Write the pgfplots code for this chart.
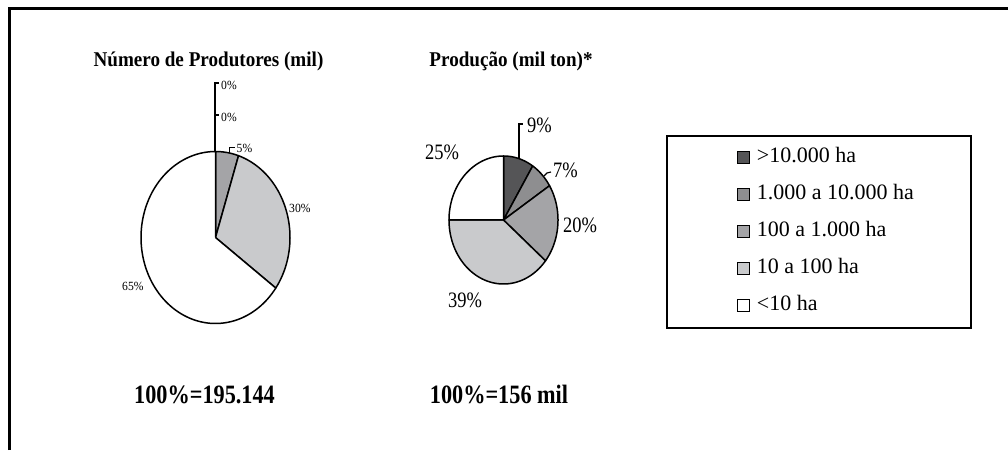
\documentclass[border=0pt]{standalone}
\usepackage{pgfplots}
\pgfplotsset{compat=1.18}
\usepackage{fontspec}
\setmainfont{Liberation Serif}
\newfontfamily\ftitle[FakeStretch=0.91]{Liberation Serif}
\newfontfamily\fbig[FakeStretch=0.84]{Liberation Serif}
\newfontfamily\fsmall[FakeStretch=0.93]{Liberation Serif}
\definecolor{c1}{RGB}{85,85,87}
\definecolor{c2}{RGB}{142,142,144}
\definecolor{c3}{RGB}{164,164,167}
\definecolor{c4}{RGB}{201,202,204}
\definecolor{c5}{RGB}{255,255,255}
% slice: cx, cy, rx, ry, start %, end %, colour
\newcommand{\slice}[7]{%
  \addplot[forget plot, fill=#7, draw=black, line width=1.5pt, line join=round,
    variable=\t, samples at={-1,0,1,...,100,101}]
  ({#1 + (\t>=0)*(\t<=100)*#3*sin(3.6*(#5+(#6-#5)*min(max(\t,0),100)/100))},
   {#2 + (\t>=0)*(\t<=100)*#4*cos(3.6*(#5+(#6-#5)*min(max(\t,0),100)/100))});
}
\begin{document}
\begin{tikzpicture}
\begin{axis}[
  width=1008pt, height=450pt, scale only axis,
  xmin=0, xmax=1008, ymin=0, ymax=450,
  hide axis, clip=false,
  legend image code/.code={%
    \path (0pt,0pt);
    \draw[#1] (20pt,-6pt) rectangle (32pt,6pt);},
  legend style={at={(0.6607,0.7)}, anchor=north west,
    draw=black, line width=1.8pt,
    minimum width=304pt, minimum height=192pt,
    font=\fontsize{22}{26}\selectfont,
    row sep=17pt,
    nodes={minimum width=0pt, minimum height=0pt, text height=15pt, text depth=5pt, inner ysep=0pt, inner xsep=7pt, line width=0.4pt}},
  legend cell align=left,
]
\path (rel axis cs:0,0) rectangle (rel axis cs:1,1);
% frame
\draw[overlay, line width=3pt] (axis cs:9,0) -- (axis cs:9,441) -- (axis cs:1008,441);

% Pie 1: Numero de Produtores: 0, 0, 5, 30, 65
\slice{215.5}{212.5}{74.5}{86}{0}{5}{c3}
\slice{215.5}{212.5}{74.5}{86}{5}{35}{c4}
\slice{215.5}{212.5}{74.5}{86}{35}{100}{c5}

% Pie 2: Producao: 9, 7, 20, 39, 25
\slice{503.5}{230}{54.5}{64}{0}{9}{c1}
\slice{503.5}{230}{54.5}{64}{9}{16}{c2}
\slice{503.5}{230}{54.5}{64}{16}{36}{c3}
\slice{503.5}{230}{54.5}{64}{36}{75}{c4}
\slice{503.5}{230}{54.5}{64}{75}{100}{c5}

\addlegendimage{fill=c1, draw=black, line width=1pt}
\addlegendentry{>10.000 ha}
\addlegendimage{fill=c2, draw=black, line width=1pt}
\addlegendentry{1.000 a 10.000 ha}
\addlegendimage{fill=c3, draw=black, line width=1pt}
\addlegendentry{100 a 1.000 ha}
\addlegendimage{fill=c4, draw=black, line width=1pt}
\addlegendentry{10 a 100 ha}
\addlegendimage{fill=c5, draw=black, line width=1pt}
\addlegendentry{<10 ha}

% titles
\node[anchor=base, inner sep=0pt, font=\fontsize{21}{25}\ftitle\bfseries] at (axis cs:208.5,383) {Número de Produtores (mil)};
\node[anchor=base, inner sep=0pt, font=\fontsize{21}{25}\ftitle\bfseries] at (axis cs:511,383) {Produção (mil ton)*};

% totals
\node[anchor=base, inner sep=0pt, font=\fontsize{26.5}{30}\fbig\bfseries] at (axis cs:204.5,47) {100\%=195.144};
\node[anchor=base, inner sep=0pt, font=\fontsize{26.5}{30}\fbig\bfseries] at (axis cs:499,47) {100\%=156 mil};

% pie 1 labels and leaders
\draw[line width=1.2pt] (axis cs:215,298) -- (axis cs:215,367) -- (axis cs:219,367);
\draw[line width=1.2pt] (axis cs:215,335) -- (axis cs:219,335);
\node[anchor=west, inner sep=0pt, font=\fontsize{12.5}{14}\fsmall] at (axis cs:221,364.5) {0\%};
\node[anchor=west, inner sep=0pt, font=\fontsize{12.5}{14}\fsmall] at (axis cs:221,333) {0\%};
\draw[line width=1pt] (axis cs:229,297) -- (axis cs:229,302) -- (axis cs:235,302);
\node[anchor=west, inner sep=0pt, font=\fontsize{12.5}{14}\fsmall] at (axis cs:236.5,302) {5\%};
\node[anchor=west, inner sep=0pt, font=\fontsize{12.5}{14}\fsmall] at (axis cs:289,242) {30\%};
\node[anchor=west, inner sep=0pt, font=\fontsize{12.5}{14}\fsmall] at (axis cs:122,164) {65\%};

% pie 2 labels and leaders
\draw[line width=1.2pt] (axis cs:519,292) -- (axis cs:519,326) -- (axis cs:523,326);
\node[anchor=west, inner sep=0pt, font=\fontsize{22}{26}\fbig] at (axis cs:527,325) {9\%};
\draw[line width=1.2pt] (axis cs:544,274) -- (axis cs:547,277) -- (axis cs:551,278);
\node[anchor=west, inner sep=0pt, font=\fontsize{22}{26}\fbig] at (axis cs:553,280) {7\%};
\node[anchor=west, inner sep=0pt, font=\fontsize{22}{26}\fbig] at (axis cs:563,225) {20\%};
\node[anchor=west, inner sep=0pt, font=\fontsize{22}{26}\fbig] at (axis cs:448,150) {39\%};
\node[anchor=west, inner sep=0pt, font=\fontsize{22}{26}\fbig] at (axis cs:425,298) {25\%};
\end{axis}
\end{tikzpicture}
\end{document}
